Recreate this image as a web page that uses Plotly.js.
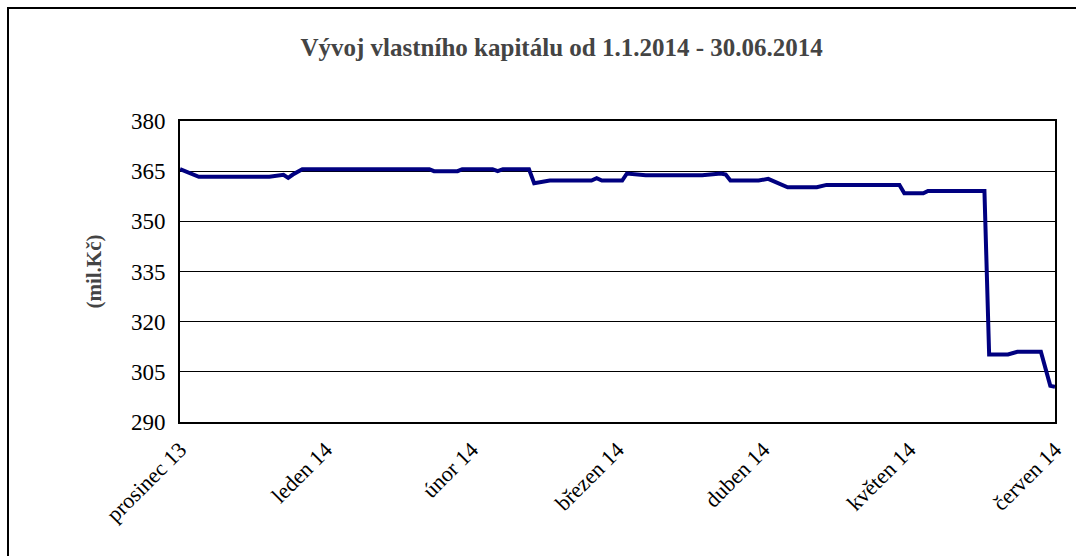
<!DOCTYPE html>
<html>
<head>
<meta charset="utf-8">
<script src="https://cdn.plot.ly/plotly-3.0.1.min.js"></script>
</head>
<body style="margin:0;overflow:hidden;background:#fff">
<div id="chart"></div>
<div id="frame" style="position:absolute;left:7px;top:7px;width:1069px;height:549px;border-left:2px solid #000;border-top:2px solid #000;pointer-events:none;box-sizing:border-box"></div>
<script>
// Data
const dates = [
  '2013-12-01','2013-12-05','2013-12-20','2013-12-23','2013-12-24','2013-12-25','2013-12-27',
  '2014-01-23','2014-01-24','2014-01-29','2014-01-30',
  '2014-02-05','2014-02-06','2014-02-07','2014-02-12','2014-02-13','2014-02-16','2014-02-24','2014-02-25','2014-02-26',
  '2014-03-02','2014-03-03','2014-03-07','2014-03-19','2014-03-23','2014-03-24','2014-03-25','2014-03-31',
  '2014-04-02','2014-04-06','2014-04-12','2014-04-14','2014-04-29','2014-04-30',
  '2014-05-04','2014-05-05','2014-05-17','2014-05-18','2014-05-22','2014-05-24','2014-05-29','2014-05-31','2014-06-01'
];
const values = [
  365.6,363.3,363.3,363.9,363.0,364.0,365.6,
  365.6,365.0,365.0,365.6,
  365.6,365.0,365.6,365.6,361.4,362.2,362.2,362.9,362.2,
  362.2,364.3,363.8,363.8,364.3,364.0,362.2,362.2,
  362.7,360.2,360.2,360.9,360.9,358.4,
  358.4,359.1,359.1,310.2,310.2,311.0,311.0,300.8,300.5
];
const monthLabels = ['prosinec 13','leden 14','únor 14','březen 14','duben 14','květen 14','červen 14'];
const yTicks = [290,305,320,335,350,365,380];

// Month-based axis scale (each month the same width, as in the original chart)
function monthPos(s){
  const [y,m,d] = s.split('-').map(Number);
  const dim = new Date(y, m, 0).getDate();
  return (y-2013)*12 + (m-12) + (d-1)/dim;
}
const xs = dates.map(monthPos);

const FAM = 'Times New Roman';

const trace = {
  x: xs, y: values, type:'scatter', mode:'lines',
  line:{color:'#000080', width:4},
  text: dates, hoverinfo:'text+y'
};

const layout = {
  width:1078, height:558,
  margin:{l:180, r:23, t:121, b:136},
  paper_bgcolor:'#fff', plot_bgcolor:'#fff',
  showlegend:false,
  font:{family:FAM},
  title:{text:'<b>Vývoj vlastního kapitálu od 1.1.2014 - 30.06.2014</b>',
    font:{family:FAM, size:25},
    x:0.521, xref:'container', xanchor:'center', y:0.915, yref:'container', yanchor:'middle'},
  xaxis:{
    range:[0,6], tickmode:'array', tickvals:[0,1,2,3,4,5,6], ticktext:monthLabels,
    tickangle:-45, showgrid:false, zeroline:false,
    showline:true, linecolor:'#000', linewidth:2, mirror:true,
    ticks:'', tickfont:{family:FAM, size:22, color:'#000'}, ticklabelstandoff:4
  },
  yaxis:{
    range:[290,380], tickmode:'array', tickvals:yTicks,
    showgrid:true, gridcolor:'#000', gridwidth:1.3, zeroline:false,
    showline:true, linecolor:'#000', linewidth:2, mirror:true,
    ticks:'', tickfont:{family:FAM, size:23, color:'#000'}, ticklabelstandoff:8,
    title:{text:'<b>(mil.Kč)</b>', font:{family:FAM, size:21}, standoff:24}
  }
};

Plotly.newPlot('chart',[trace],layout,{staticPlot:true});
</script>
</body>
</html>
